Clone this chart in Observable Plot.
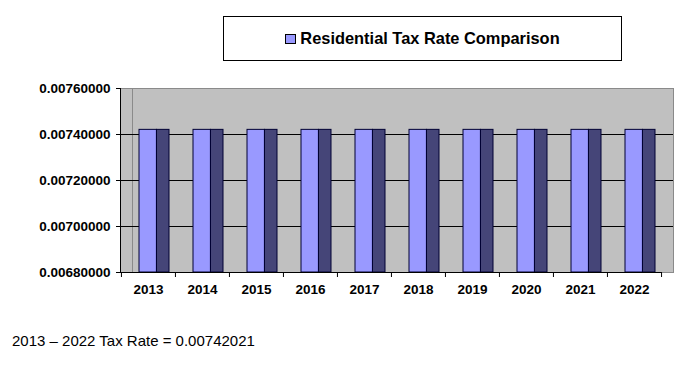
<!DOCTYPE html>
<html>
<head>
<meta charset="utf-8">
<script src="https://cdn.jsdelivr.net/npm/d3@7"></script>
<script src="https://cdn.jsdelivr.net/npm/@observablehq/plot@0.6"></script>
<style>
  body { margin: 0; background: #fff; font-family: "Liberation Sans", Arial, sans-serif; }
  #wrap { position: relative; width: 696px; height: 375px; overflow: hidden; }
  #legend { position: absolute; left: 223px; top: 16px; width: 399px; height: 45px; border: 1px solid #000; box-sizing: border-box;
    display: flex; align-items: center; justify-content: center; font-weight: bold; font-size: 16.4px; color: #000; }
  #legend .sw { display: inline-block; width: 9px; height: 8px; background: #9999ff; border: 1px solid #000; margin-right: 4px; }
  #caption { position: absolute; left: 12px; top: 332px; font-size: 15px; color: #000; white-space: nowrap; }
  #chart { position: absolute; left: 0; top: 0; }
</style>
</head>
<body>
<div id="wrap">
  <div id="chart"></div>
  <div id="legend"><span class="sw"></span>Residential Tax Rate Comparison</div>
  <div id="caption">2013 – 2022 Tax Rate = 0.00742021</div>
</div>
<script>
const years = ["2013","2014","2015","2016","2017","2018","2019","2020","2021","2022"];
const rates = [0.00742021,0.00742021,0.00742021,0.00742021,0.00742021,0.00742021,0.00742021,0.00742021,0.00742021,0.00742021];
const yTicks = [0.0068,0.0070,0.0072,0.0074,0.0076];
const gridTicks = [0.0070,0.0072,0.0074];

const data = years.map((y, i) => ({year: y, rate: rates[i]}));
const yMin = 0.0068;
const bw = (696 - 120 - 35) / years.length;

const chart = Plot.plot({
  width: 696,
  height: 375,
  marginTop: 88,
  marginBottom: 103,
  marginLeft: 120,
  marginRight: 35,
  style: {fontFamily: "'Liberation Sans', Arial, sans-serif", background: "transparent"},
  x: {type: "band", domain: years, padding: 0, axis: null},
  y: {domain: [0.0068, 0.0076], axis: null},
  marks: [
    Plot.frame({fill: "#c0c0c0", stroke: "#8a8a8a", insetRight: -12}),
    Plot.frame({anchor: "left", stroke: "#8a8a8a", dx: 12}),
    Plot.ruleY(gridTicks, {stroke: "#000", strokeWidth: 1, insetRight: -12, insetLeft: 0}),
    Plot.rectY(data, {x: "year", y1: () => yMin, y2: "rate", fill: "#9999ff", stroke: "#000033", strokeWidth: 1, insetLeft: 18, insetRight: bw - 35.5}),
    Plot.rectY(data, {x: "year", y1: () => yMin, y2: "rate", fill: "#454578", stroke: "#000033", strokeWidth: 1, insetLeft: 35.5, insetRight: 6}),
    Plot.frame({anchor: "left", stroke: "#000"}),
    Plot.ruleY([yMin], {stroke: "#000"}),
    Plot.ruleX(years, {x: d => d, y1: yMin, y2: yMin, dx: -bw / 2, insetBottom: -5, stroke: "#000"}),
    Plot.ruleX([years[years.length - 1]], {x: d => d, y1: yMin, y2: yMin, dx: bw / 2, insetBottom: -5, stroke: "#000"}),
    Plot.axisY({ticks: yTicks, tickFormat: d3.format(".8f"), label: null, tickSize: 4, tickPadding: 6, fontSize: 13.5, fontWeight: "bold", fill: "#000", stroke: "#000"}),
    Plot.axisX({label: null, tickSize: 0, tickPadding: 12, fontSize: 13.5, fontWeight: "bold", fill: "#000"})
  ]
});
document.getElementById("chart").appendChild(chart);
</script>
</body>
</html>
